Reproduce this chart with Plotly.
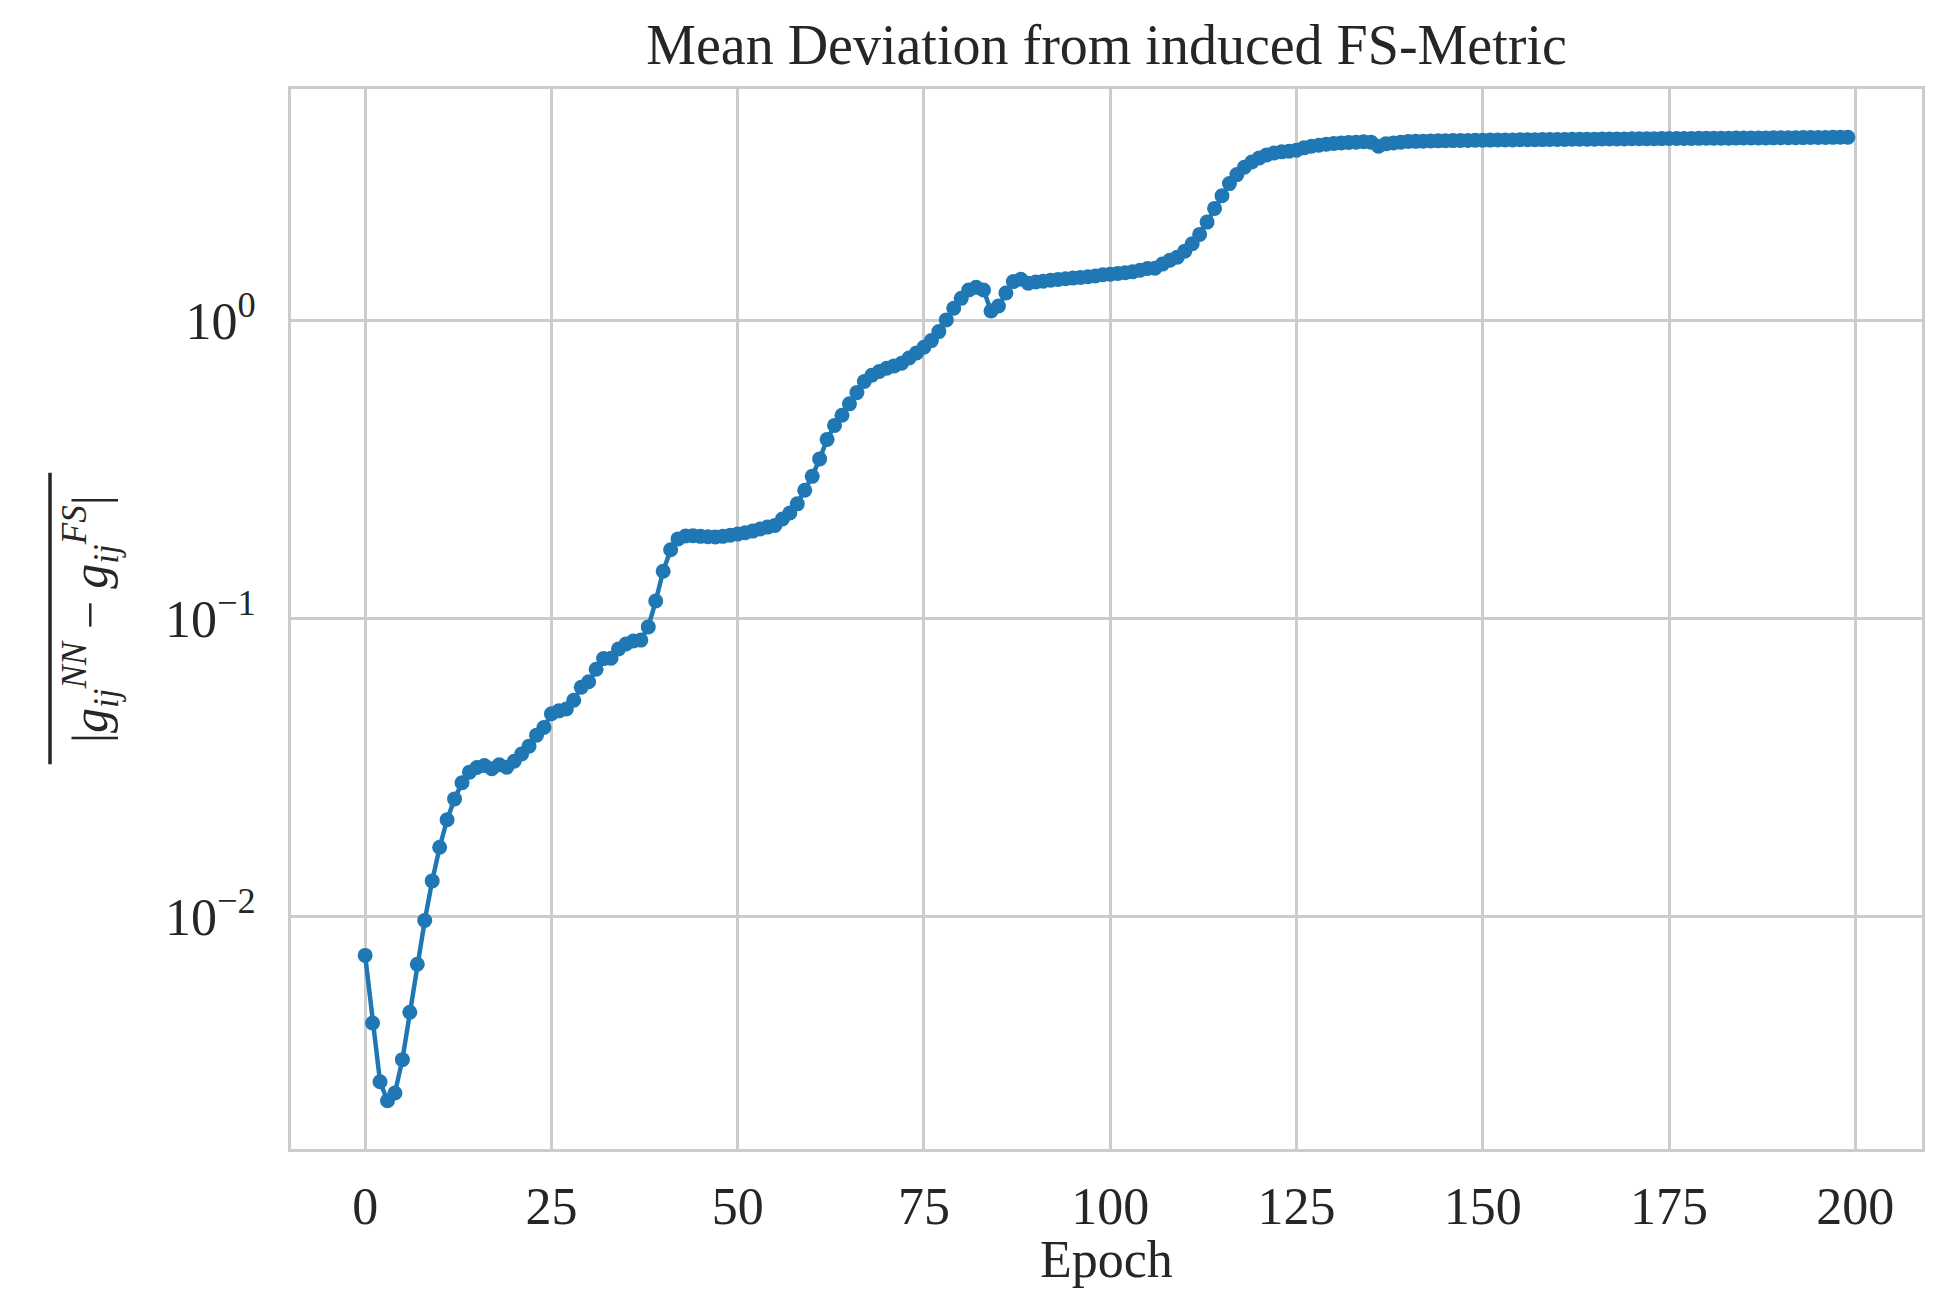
import plotly.graph_objects as go
import numpy as np

epochs = list(range(200))
deviation = [
    0.00739, 0.00438, 0.00278, 0.00240, 0.00255, 0.00330, 0.00476, 0.00690, 0.00968, 0.01315,
    0.01706, 0.0211, 0.0248, 0.0281, 0.0305, 0.0316, 0.0321, 0.0313, 0.0323, 0.0317,
    0.0332, 0.0351, 0.0373, 0.0406, 0.0431, 0.0479, 0.0490, 0.0497, 0.0532, 0.0588,
    0.0614, 0.0676, 0.0734, 0.0736, 0.0791, 0.0822, 0.0841, 0.0847, 0.0938, 0.1146,
    0.1443, 0.1703, 0.1853, 0.1895, 0.1900, 0.1890, 0.1884, 0.1880, 0.1890, 0.1905,
    0.1923, 0.1944, 0.1968, 0.2000, 0.2030, 0.2057, 0.2160, 0.2264, 0.2430, 0.2700,
    0.3006, 0.3440, 0.4000, 0.4457, 0.4824, 0.5266, 0.5746, 0.6258, 0.6573, 0.6760,
    0.6937, 0.7063, 0.7210, 0.7510, 0.7810, 0.8157, 0.8590, 0.9210, 1.008, 1.103,
    1.191, 1.270, 1.297, 1.270, 1.080, 1.123, 1.242, 1.356, 1.380, 1.339,
    1.351, 1.359, 1.370, 1.379, 1.386, 1.393, 1.400, 1.408, 1.415, 1.429,
    1.436, 1.443, 1.451, 1.462, 1.481, 1.500, 1.504, 1.552, 1.600, 1.638,
    1.716, 1.816, 1.953, 2.148, 2.388, 2.634, 2.893, 3.102, 3.283, 3.420,
    3.530, 3.613, 3.669, 3.698, 3.717, 3.746, 3.815, 3.864, 3.894, 3.925,
    3.945, 3.964, 3.976, 3.987, 3.997, 3.987, 3.864, 3.935, 3.964, 3.987,
    4.008, 4.012, 4.018, 4.022, 4.027, 4.031, 4.035, 4.038, 4.041, 4.044,
    4.047, 4.050, 4.052, 4.055, 4.057, 4.060, 4.062, 4.064, 4.067, 4.069,
    4.071, 4.073, 4.075, 4.077, 4.079, 4.081, 4.083, 4.085, 4.087, 4.089,
    4.091, 4.093, 4.094, 4.096, 4.098, 4.099, 4.101, 4.103, 4.104, 4.106,
    4.108, 4.109, 4.111, 4.112, 4.114, 4.115, 4.117, 4.118, 4.120, 4.121,
    4.123, 4.126, 4.128, 4.130, 4.132, 4.134, 4.136, 4.138, 4.140, 4.143,
]
x_tick_vals = [0, 25, 50, 75, 100, 125, 150, 175, 200]
y_tick_vals = [0.01, 0.1, 1]
y_tick_text = ["10<sup>\u22122</sup>", "10<sup>\u22121</sup>", "10<sup>0</sup>"]

title_text = "Mean Deviation from induced FS-Metric"
x_title = "Epoch"
y_title = ('|<i>g</i><sub><i>ij</i></sub><sup><i>NN</i></sup>'
           ' \u2212 <i>g</i><sub><i>ij</i></sub><sup><i>FS</i></sup>|')

FONT = "Liberation Serif"
TXT = "#262626"
GRID = "#cccccc"
BLUE = "#1f77b4"

# matplotlib-like 5% margins
xmin, xmax = min(epochs), max(epochs)
xpad = 0.05 * (xmax - xmin)
lmin, lmax = np.log10(min(deviation)), np.log10(max(deviation))
lpad = 0.05 * (lmax - lmin)

fig = go.Figure()
fig.add_trace(go.Scatter(
    x=epochs, y=deviation, mode="lines+markers",
    line=dict(color=BLUE, width=4.5),
    marker=dict(color=BLUE, size=15, line=dict(width=0)),
    showlegend=False,
))

fig.update_layout(
    width=1957, height=1294,
    margin=dict(l=291, r=35, t=89, b=145, autoexpand=False),
    paper_bgcolor="white", plot_bgcolor="white",
    font=dict(family=FONT, color=TXT, size=52),
    title=dict(text=title_text, x=0.5 * (291 + 1922) / 1957, xanchor="center",
               y=1 - 44 / 1294, yanchor="middle", yref="container",
               font=dict(family=FONT, size=56, color=TXT)),
    xaxis=dict(
        range=[xmin - xpad, xmax + xpad], automargin=False,
        tickvals=x_tick_vals, ticks="", ticklabelstandoff=10,
        showgrid=True, gridcolor=GRID, gridwidth=2.6,
        showline=True, linecolor=GRID, linewidth=3, mirror=True,
        zeroline=False,
        tickfont=dict(family=FONT, size=52, color=TXT),
    ),
    yaxis=dict(
        type="log", range=[lmin - lpad, lmax + lpad], automargin=False,
        tickvals=y_tick_vals, ticktext=y_tick_text, ticks="", ticklabelstandoff=22,
        showgrid=True, gridcolor=GRID, gridwidth=2.6,
        showline=True, linecolor=GRID, linewidth=3, mirror=True,
        zeroline=False,
        tickfont=dict(family=FONT, size=52, color=TXT),
    ),
    annotations=[
        dict(
            text=y_title, textangle=-90, xref="paper", yref="paper",
            x=(90 - 291) / 1631, y=0.5, xanchor="center", yanchor="middle",
            showarrow=False, font=dict(family=FONT, size=50, color=TXT),
        ),
        dict(
            text=x_title, xref="paper", yref="paper",
            x=0.5, y=(1149.5 - 1260) / 1061, xanchor="center", yanchor="middle",
            showarrow=False, font=dict(family=FONT, size=52, color=TXT),
        ),
    ],
    shapes=[dict(
        type="line", xref="paper", yref="paper",
        x0=(50 - 291) / 1631, x1=(50 - 291) / 1631, y0=0.363, y1=0.638,
        line=dict(color=TXT, width=3.5),
    )],
)

fig.write_html("out.html")
